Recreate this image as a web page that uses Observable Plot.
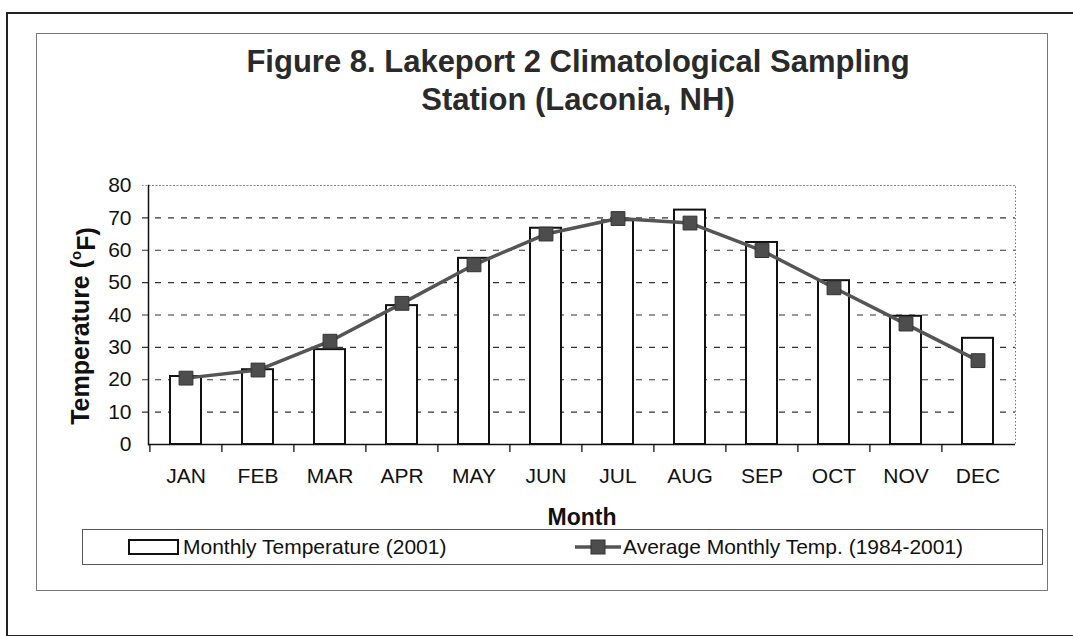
<!DOCTYPE html>
<html>
<head>
<meta charset="utf-8">
<script src="https://cdn.jsdelivr.net/npm/d3@7"></script>
<script src="https://cdn.jsdelivr.net/npm/@observablehq/plot@0.6"></script>
<style>
  html, body { margin: 0; padding: 0; background: #fff; }
  #wrap { position: relative; width: 1073px; height: 636px; overflow: hidden; font-family: "Liberation Sans", Arial, sans-serif; color: #111; }
  #outer { position: absolute; left: 6px; top: 12px; width: 1100px; height: 621px; border-left: 2px solid #222; border-top: 2px solid #222; border-bottom: 2px solid #222; }
  #inner { position: absolute; left: 36px; top: 33px; width: 1010px; height: 556px; border: 1px solid #777; }
  #title { position: absolute; left: 78px; width: 1000px; top: 43px; text-align: center; font-weight: bold; font-size: 31px; line-height: 38px; color: #2a2a2a; }
  #chart { position: absolute; left: 0; top: 0; }
  #legend { position: absolute; left: 82px; top: 529px; width: 959px; height: 34px; border: 1px solid #555; font-size: 21px; }
  .item { position: absolute; top: 0; height: 34px; display: flex; align-items: center; white-space: nowrap; }
  g[aria-label="y-axis label"] text { font-weight: bold; font-size: 25px; }
  g[aria-label="x-axis label"] text { font-weight: bold; font-size: 23px; }
</style>
</head>
<body>
<div id="wrap">
  <div id="outer"></div>
  <div id="inner"></div>
  <div id="title">Figure 8. Lakeport 2 Climatological Sampling<br>Station (Laconia, NH)</div>
  <div id="chart"></div>
  <div id="legend">
    <div class="item" style="left:45px;"><svg width="52" height="18" style="margin-right:3px"><rect x="1" y="2" width="49" height="14" fill="#fff" stroke="#111" stroke-width="2"/></svg><span>Monthly Temperature (2001)</span></div>
    <div class="item" style="left:492px;"><svg width="46" height="20" style="margin-right:2px"><line x1="0" y1="10" x2="46" y2="10" stroke="#555" stroke-width="3.5"/><rect x="16" y="3" width="14" height="14" fill="#4d4d4d" stroke="#333" stroke-width="1"/></svg><span>Average Monthly Temp. (1984-2001)</span></div>
  </div>
</div>
<script>
const months = ["JAN","FEB","MAR","APR","MAY","JUN","JUL","AUG","SEP","OCT","NOV","DEC"];
const monthly2001 = [21, 23.1, 29.3, 42.9, 57.5, 66.8, 69.1, 72.4, 62.4, 50.6, 39.6, 32.8];
const average8401 = [20.5, 23, 31.9, 43.6, 55.5, 65, 69.8, 68.4, 59.9, 48.4, 37.2, 25.9];
const yTicks = [0, 10, 20, 30, 40, 50, 60, 70, 80];
const gridValues = [10, 20, 30, 40, 50, 60, 70];

const data = months.map((m, i) => ({month: m, t2001: monthly2001[i], avg: average8401[i]}));

const W = 1073, H = 636, mL = 148, mR = 58, mT = 185, mB = 192;
const step = (W - mL - mR) / months.length;

const plot = Plot.plot({
  width: W, height: H,
  marginLeft: mL, marginRight: mR, marginTop: mT, marginBottom: mB,
  style: {fontFamily: '"Liberation Sans", Arial, sans-serif', fontSize: "21px", color: "#111", background: "transparent", overflow: "visible"},
  x: {type: "band", domain: months, paddingInner: 0.57, paddingOuter: 0.285},
  y: {domain: [0, 80]},
  marks: [
    Plot.frame({stroke: "#777", strokeDasharray: "1.5,2", strokeWidth: 1}),
    Plot.ruleY(gridValues, {stroke: "#333", strokeDasharray: "6,7", strokeWidth: 1.2, insetLeft: -6}),
    Plot.ruleY([80], {stroke: "#888", strokeDasharray: "1.5,2", strokeWidth: 1, insetLeft: -6}),
    Plot.barY(data, {x: "month", y: "t2001", fill: "#fff", stroke: "#111", strokeWidth: 2}),
    Plot.line(data, {x: "month", y: "avg", stroke: "#555", strokeWidth: 3.5}),
    Plot.dot(data, {x: "month", y: "avg", symbol: "square", r: 7.8, fill: "#4d4d4d", stroke: "#333", strokeWidth: 1}),
    Plot.frame({anchor: "left", stroke: "#111", strokeWidth: 1.5}),
    Plot.ruleY([0], {stroke: "#111", strokeWidth: 1.5}),
    Plot.ruleX(months, {x: d => d, dx: -step / 2, y1: 0, y2: -2.5, stroke: "#111", strokeWidth: 1.3}),
    Plot.axisY({ticks: yTicks, tickSize: 0, tickPadding: 17, label: "Temperature (oF)", labelAnchor: "center", labelOffset: 77, labelArrow: "none"}),
    Plot.axisX({tickSize: 0, tickPadding: 24, label: "Month", labelAnchor: "center", labelOffset: 80, labelArrow: "none"})
  ]
});
document.getElementById("chart").appendChild(plot);

// superscript "o" in the y-axis label, and nudge it down like the original
const yl = plot.querySelector('g[aria-label="y-axis label"] text');
if (yl) {
  yl.textContent = "";
  const ns = "http://www.w3.org/2000/svg";
  const a = document.createElementNS(ns, "tspan"); a.textContent = "Temperature (";
  const b = document.createElementNS(ns, "tspan"); b.textContent = "o"; b.setAttribute("font-size", "15px"); b.setAttribute("dy", "-0.55em");
  const c = document.createElementNS(ns, "tspan"); c.textContent = "F)"; c.setAttribute("dy", "0.55em");
  yl.append(a, b, c);
  const t = yl.getAttribute("transform") || "";
  yl.setAttribute("transform", "translate(0,11) " + t);
}
</script>
</body>
</html>
